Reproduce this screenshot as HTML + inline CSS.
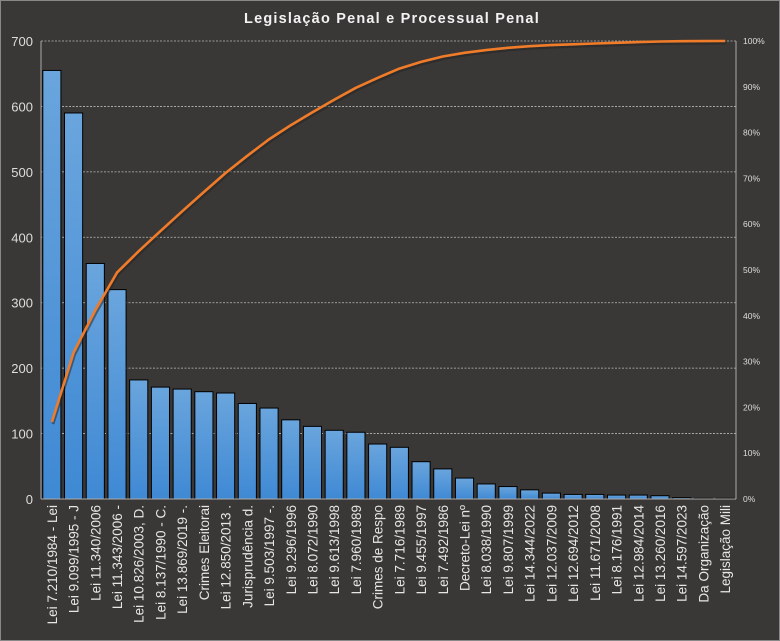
<!DOCTYPE html>
<html><head><meta charset="utf-8"><style>
body{margin:0;background:#3a3836;}
svg{display:block;font-family:"Liberation Sans","DejaVu Sans",sans-serif;}
</style></head><body>
<svg id="c" width="780" height="641" xmlns="http://www.w3.org/2000/svg">
<rect x="0.5" y="0.5" width="779" height="640" fill="#3a3836" stroke="#888" stroke-width="1"/>
<text x="392" y="23" text-anchor="middle" fill="#f2f2f2" font-size="14.5" font-weight="bold" letter-spacing="1.2">Legislação Penal e Processual Penal</text>
</svg>
<script>
const vals=[655,590,360,320,182,171,168,164,162,146,139,121,111,105,102,84,79,57,46,32,23,19,14,9,7,7,6,6,5,2,1,1];
const labs=["Lei 7.210/1984 - Lei","Lei 9.099/1995 - J","Lei 11.340/2006","Lei 11.343/2006 -","Lei 10.826/2003, D.","Lei 8.137/1990 - C.","Lei 13.869/2019 -.","Crimes Eleitorai","Lei 12.850/2013 .","Jurisprudência d.","Lei 9.503/1997 -.","Lei 9.296/1996","Lei 8.072/1990","Lei 9.613/1998","Lei 7.960/1989","Crimes de Respo","Lei 7.716/1989","Lei 9.455/1997","Lei 7.492/1986","Decreto-Lei nº","Lei 8.038/1990","Lei 9.807/1999","Lei 14.344/2022","Lei 12.037/2009","Lei 12.694/2012","Lei 11.671/2008","Lei 8.176/1991","Lei 12.984/2014","Lei 13.260/2016","Lei 14.597/2023","Da Organização","Legislação Mili"];
const L=41,R=736,T=41,B=499,H=B-T,n=vals.length,cw=(R-L)/n;
let s='';
for(let i=0;i<=7;i++){const y=B-i*H/7;
 if(i>0) s+=`<line x1="${L}" x2="${R}" y1="${y}" y2="${y}" stroke="#bbb" stroke-width="0.8" stroke-dasharray="2,1.5"/>`;
 s+=`<text x="33" y="${y+5}" text-anchor="end" fill="#ddd" font-size="13">${i*100}</text>`;}
for(let i=0;i<=10;i++){const y=B-i*H/10;
 s+=`<text x="743" y="${y+3}" fill="#ddd" font-size="8.5">${i*10}%</text>`;}
s+=`<defs><linearGradient id="g" x1="0" x2="0" y1="0" y2="1"><stop offset="0" stop-color="#6aa5dd"/><stop offset="1" stop-color="#3f89d4"/></linearGradient></defs>`;
const tot=vals.reduce((a,b)=>a+b,0);let cum=0,pts=[];
vals.forEach((v,i)=>{const x=L+i*cw+1.8,w=cw-3.6,h=v/700*H;
 s+=`<rect x="${x}" y="${B-h}" width="${w}" height="${h}" fill="url(#g)" stroke="#000" stroke-width="1"/>`;
 cum+=v;pts.push(`${(L+(i+0.5)*cw).toFixed(1)},${(B-cum/tot*H).toFixed(1)}`);
 const cx=L+(i+0.5)*cw+5;
 s+=`<text transform="translate(${cx},505) rotate(-90)" text-anchor="end" fill="#e6e6e6" font-size="13.5" textLength="" >${labs[i]}</text>`;});
s+=`<line x1="${L}" x2="${L}" y1="${T}" y2="${B}" stroke="#aaa"/><line x1="${R}" x2="${R}" y1="${T}" y2="${B}" stroke="#aaa"/><line x1="${L}" x2="${R}" y1="${B}" y2="${B}" stroke="#aaa"/>`;
s+=`<polyline points="${pts.join(' ')}" fill="none" stroke="#222" stroke-opacity="0.5" stroke-width="3" transform="translate(1,2)"/>`;
s+=`<polyline points="${pts.join(' ')}" fill="none" stroke="#f07c2a" stroke-width="2.6" stroke-linejoin="round"/>`;
document.getElementById('c').insertAdjacentHTML('beforeend',s.replace(/ textLength="" /g,''));
</script>
</body></html>
